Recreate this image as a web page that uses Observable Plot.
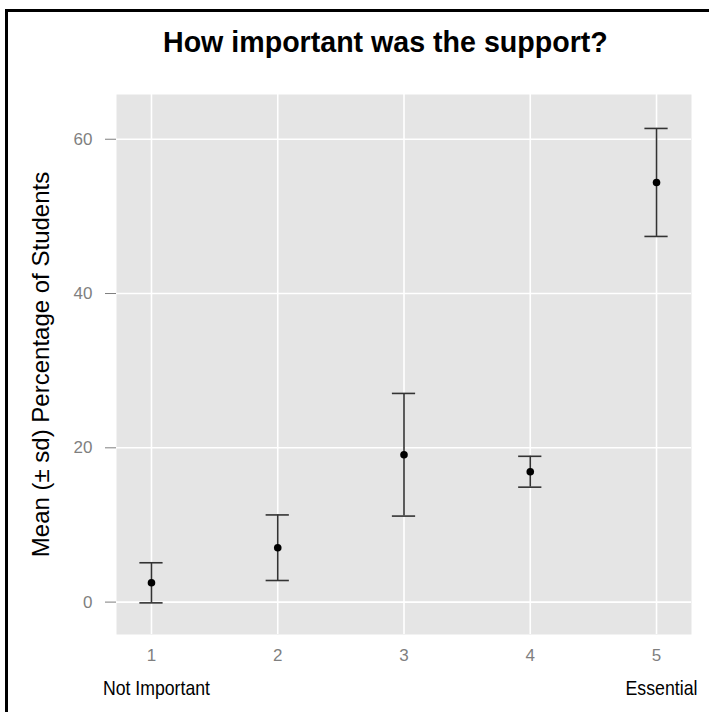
<!DOCTYPE html>
<html>
<head>
<meta charset="utf-8">
<script src="https://cdn.jsdelivr.net/npm/d3@7"></script>
<script src="https://cdn.jsdelivr.net/npm/@observablehq/plot@0.6"></script>
<style>
  html, body { margin: 0; padding: 0; background: #fff; }
  #wrap { position: relative; width: 709px; height: 712px; overflow: hidden; }
  #frame { position: absolute; left: 5px; top: 9px; right: -10px; bottom: -10px;
           border-left: 3px solid #000; border-top: 3px solid #000; }
  #title { position: absolute; left: 163px; top: 26px; white-space: nowrap;
           font-family: "Liberation Sans", Arial, sans-serif; font-weight: bold; font-size: 28.6px; color: #000; }
  #chart { position: absolute; left: 0; top: 0; }
</style>
</head>
<body>
<div id="wrap">
  <div id="chart"></div>
  <div id="frame"></div>
  <div id="title">How important was the support?</div>
</div>
<script>
const categories = [1, 2, 3, 4, 5];
const means = [2.5, 7.05, 19.1, 16.9, 54.4];
const sds = [2.6, 4.25, 7.95, 2.0, 7.0];
const yTicks = [0, 20, 40, 60];
const endLabels = ["Not Important", "Essential"];
const endPositions = [1, 5];
const yTitle = "Mean (± sd) Percentage of Students";

const data = categories.map((c, i) => ({x: c, mean: means[i], lo: means[i] - sds[i], hi: means[i] + sds[i]}));
const ends = endLabels.map((l, i) => ({x: endPositions[i], label: l}));
const capHalf = 0.092;

const chart = Plot.plot({
  width: 709,
  height: 712,
  marginLeft: 116,
  marginRight: 18,
  marginTop: 94,
  marginBottom: 78,
  style: {fontFamily: "'Liberation Sans', Arial, sans-serif", fontSize: "17px", background: "transparent"},
  x: {domain: [0.723, 5.277], ticks: categories, tickFormat: d => String(d)},
  y: {domain: [-4.2, 65.8], ticks: yTicks},
  marks: [
    Plot.frame({fill: "#e5e5e5", stroke: null}),
    Plot.gridX(categories, {stroke: "#fff", strokeOpacity: 1, strokeWidth: 1.6}),
    Plot.gridY(yTicks, {stroke: "#fff", strokeOpacity: 1, strokeWidth: 1.6}),
    Plot.axisY(yTicks, {tickSize: 11, tickPadding: 13, fontSize: 17, tickFormat: d => String(d), color: "#7f7f7f", stroke: "#7f7f7f", label: null}),
    Plot.axisX(categories, {tickSize: 0, tickPadding: 14, fontSize: 17, tickFormat: d => String(d), color: "#7f7f7f", label: null}),
    Plot.ruleX(data, {x: "x", y1: "lo", y2: "hi", stroke: "#333", strokeWidth: 1.6}),
    Plot.ruleY(data, {y: "lo", x1: d => d.x - capHalf, x2: d => d.x + capHalf, stroke: "#333", strokeWidth: 1.6}),
    Plot.ruleY(data, {y: "hi", x1: d => d.x - capHalf, x2: d => d.x + capHalf, stroke: "#333", strokeWidth: 1.6}),
    Plot.dot(data, {x: "x", y: "mean", r: 3.8, fill: "#000", stroke: null}),
    Plot.text(ends, {x: "x", text: "label", frameAnchor: "bottom", dy: 60, dx: 5, fontSize: 21, fill: "#000"}),
    Plot.text([yTitle], {text: d => d, frameAnchor: "left", rotate: -90, dx: -75, textAnchor: "middle", fontSize: 24, fill: "#000"})
  ]
});
document.getElementById("chart").appendChild(chart);
const svg = d3.select(chart);
// tick labels at reference size
svg.selectAll('g[aria-label$="tick label"]').each(function() {
  this.style.fontSize = "17px";
  this.setAttribute("font-size", "17");
});
// condense the end labels to the reference's narrow face
const endWidths = {"Not Important": 107, "Essential": 72};
svg.selectAll("text").each(function() {
  const t = this.textContent;
  if (endWidths[t]) {
    this.setAttribute("textLength", endWidths[t]);
    this.setAttribute("lengthAdjust", "spacingAndGlyphs");
  }
});
</script>
</body>
</html>
